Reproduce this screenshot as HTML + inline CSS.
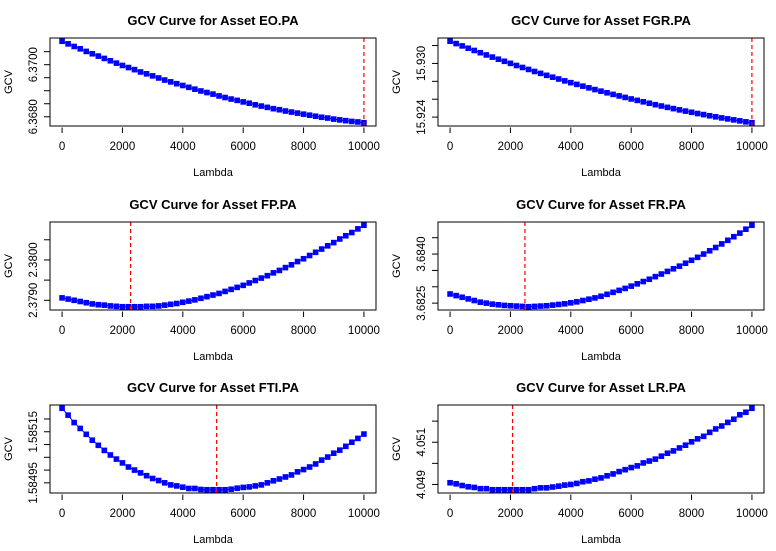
<!DOCTYPE html>
<html><head><meta charset="utf-8"><style>
html,body{margin:0;padding:0;background:#fff;}
svg{display:block;font-family:"Liberation Sans",Arial,sans-serif;}
</style></head><body>
<svg id="chart" width="776" height="551" viewBox="0 0 776 551" xmlns="http://www.w3.org/2000/svg"></svg>
<script>
const lambdas = [];
for (let i = 0; i <= 50; i++) lambdas.push(i * 200);
const xTicks = [0, 2000, 4000, 6000, 8000, 10000];

const assetNames = ["EO.PA","FGR.PA","FP.PA","FR.PA","FTI.PA","LR.PA"];

const gcvEO = [6.37090,6.37080,6.37070,6.37061,6.37051,6.37042,6.37033,6.37024,6.37015,6.37006,6.36997,6.36989,6.36981,6.36972,6.36965,6.36957,6.36949,6.36941,6.36934,6.36927,6.36920,6.36913,6.36906,6.36899,6.36893,6.36887,6.36880,6.36874,6.36868,6.36863,6.36857,6.36852,6.36846,6.36841,6.36836,6.36831,6.36827,6.36822,6.36818,6.36814,6.36810,6.36806,6.36802,6.36798,6.36795,6.36791,6.36788,6.36785,6.36782,6.36780,6.36777];
const gcvFGR = [15.93248,15.93222,15.93196,15.93170,15.93145,15.93120,15.93095,15.93071,15.93047,15.93024,15.93001,15.92977,15.92955,15.92933,15.92910,15.92889,15.92867,15.92846,15.92826,15.92805,15.92785,15.92766,15.92746,15.92727,15.92708,15.92690,15.92672,15.92654,15.92637,15.92620,15.92603,15.92587,15.92571,15.92555,15.92539,15.92524,15.92509,15.92495,15.92481,15.92467,15.92454,15.92440,15.92428,15.92415,15.92403,15.92391,15.92380,15.92369,15.92358,15.92347,15.92337];
const gcvFP = [2.37906,2.37903,2.37900,2.37897,2.37894,2.37891,2.37889,2.37888,2.37886,2.37885,2.37884,2.37884,2.37884,2.37884,2.37885,2.37885,2.37886,2.37888,2.37890,2.37892,2.37895,2.37898,2.37901,2.37905,2.37909,2.37913,2.37917,2.37922,2.37927,2.37932,2.37937,2.37943,2.37949,2.37955,2.37961,2.37968,2.37974,2.37981,2.37988,2.37996,2.38003,2.38011,2.38019,2.38027,2.38035,2.38043,2.38052,2.38060,2.38068,2.38077,2.38086];
const gcvFR = [3.68278,3.68273,3.68268,3.68263,3.68258,3.68253,3.68250,3.68247,3.68245,3.68243,3.68242,3.68241,3.68240,3.68239,3.68240,3.68241,3.68242,3.68244,3.68246,3.68248,3.68251,3.68254,3.68258,3.68262,3.68266,3.68271,3.68277,3.68283,3.68289,3.68295,3.68302,3.68309,3.68316,3.68323,3.68331,3.68339,3.68347,3.68355,3.68363,3.68372,3.68381,3.68390,3.68400,3.68410,3.68420,3.68431,3.68442,3.68453,3.68464,3.68476,3.68488];
const gcvFTI = [1.585242,1.585215,1.585186,1.585163,1.585140,1.585117,1.585097,1.585077,1.585059,1.585043,1.585028,1.585012,1.585000,1.584989,1.584978,1.584967,1.584959,1.584950,1.584942,1.584938,1.584933,1.584928,1.584928,1.584924,1.584923,1.584923,1.584923,1.584923,1.584925,1.584929,1.584932,1.584934,1.584938,1.584942,1.584950,1.584958,1.584965,1.584973,1.584981,1.584993,1.585002,1.585012,1.585024,1.585039,1.585051,1.585066,1.585078,1.585093,1.585109,1.585124,1.585141];
const gcvLR = [4.04908,4.04903,4.04895,4.04889,4.04886,4.04880,4.04880,4.04875,4.04875,4.04875,4.04875,4.04875,4.04875,4.04875,4.04880,4.04884,4.04884,4.04888,4.04892,4.04897,4.04900,4.04905,4.04913,4.04917,4.04925,4.04931,4.04941,4.04950,4.04961,4.04970,4.04980,4.04988,4.05002,4.05011,4.05020,4.05034,4.05048,4.05059,4.05073,4.05086,4.05102,4.05116,4.05128,4.05147,4.05163,4.05177,4.05194,4.05209,4.05230,4.05242,4.05261];

const optLambdaEO = 10000, optLambdaFGR = 10000, optLambdaFP = 2270, optLambdaFR = 2480, optLambdaFTI = 5120, optLambdaLR = 2070;

const yTicksEO = [6.3680,6.3685,6.3690,6.3695,6.3700,6.3705];
const yLabelsEO = ["6.3680","6.3700"];
const yTicksFGR = [15.924,15.926,15.928,15.930,15.932];
const yLabelsFGR = ["15.924","15.930"];
const yTicksFP = [2.3790,2.3795,2.3800,2.3805];
const yLabelsFP = ["2.3790","2.3800"];
const yTicksFR = [3.6825,3.6830,3.6835,3.6840,3.6845];
const yLabelsFR = ["3.6825","3.6840"];
const yTicksFTI = [1.58495,1.58500,1.58505,1.58510,1.58515,1.58520];
const yLabelsFTI = ["1.58495","1.58515"];
const yTicksLR = [4.049,4.050,4.051,4.052];
const yLabelsLR = ["4.049","4.051"];

const panels = [
  {name:assetNames[0], vals:gcvEO, opt:optLambdaEO, ticks:yTicksEO, labels:yLabelsEO},
  {name:assetNames[1], vals:gcvFGR, opt:optLambdaFGR, ticks:yTicksFGR, labels:yLabelsFGR},
  {name:assetNames[2], vals:gcvFP, opt:optLambdaFP, ticks:yTicksFP, labels:yLabelsFP},
  {name:assetNames[3], vals:gcvFR, opt:optLambdaFR, ticks:yTicksFR, labels:yLabelsFR},
  {name:assetNames[4], vals:gcvFTI, opt:optLambdaFTI, ticks:yTicksFTI, labels:yLabelsFTI},
  {name:assetNames[5], vals:gcvLR, opt:optLambdaLR, ticks:yTicksLR, labels:yLabelsLR}
];

const NS = "http://www.w3.org/2000/svg";
const svg = document.getElementById("chart");
function mk(tag, attrs, parent) {
  const e = document.createElementNS(NS, tag);
  for (const k in attrs) e.setAttribute(k, attrs[k]);
  parent.appendChild(e);
  return e;
}
const rowOff = [0, 184, 367];
const colOff = [0, 388];

panels.forEach((p, i) => {
  const ox = colOff[i % 2], oy = rowOff[Math.floor(i / 2)];
  const g = mk("g", {transform: `translate(${ox},${oy})`}, svg);
  
  
  const bx0 = 50, bx1 = 376, by0 = 38, by1 = 126;
  const xmin = lambdas[0], xmax = lambdas[lambdas.length - 1];
  const xr = xmax - xmin;
  const xs = v => bx0 + (v - (xmin - 0.04 * xr)) / (1.08 * xr) * (bx1 - bx0);
  const ymin = Math.min(...p.vals), ymax = Math.max(...p.vals);
  const yr = ymax - ymin;
  const ys = v => by1 - (v - (ymin - 0.04 * yr)) / (1.08 * yr) * (by1 - by0);

  const title = mk("text", {x: 213, y: 25, "text-anchor": "middle", "font-size": 13, "font-weight": "bold", fill: "#000"}, g);
  title.textContent = "GCV Curve for Asset " + p.name;
  
  

  // points
  const pg = mk("g", {}, g);
  
  
  let d = "";
  lambdas.forEach((l, j) => { d += (j ? "L" : "M") + xs(l).toFixed(2) + " " + ys(p.vals[j]).toFixed(2); });
  mk("path", {d: d, fill: "none", stroke: "#0000ff", "stroke-width": 1}, pg);
  lambdas.forEach((l, j) => {
    const r = mk("rect", {x: (xs(l) - 2.8).toFixed(2), y: (ys(p.vals[j]) - 2.8).toFixed(2), width: 5.6, height: 5.6, fill: "#0000ff"}, pg);
    
    
  });

  // optimal lambda line
  const vl = mk("line", {x1: xs(p.opt), x2: xs(p.opt), y1: by0, y2: by1, stroke: "#ff0000", "stroke-width": 1.2, "stroke-dasharray": "4,3"}, g);
  
  

  // box
  const box = mk("rect", {x: bx0, y: by0, width: bx1 - bx0, height: by1 - by0, fill: "none", stroke: "#000", "stroke-width": 1}, g);
  
  

  // x axis
  const xa = mk("g", {}, g);
  
  
  xTicks.forEach(t => {
    mk("line", {x1: xs(t), x2: xs(t), y1: by1 + 1.5, y2: by1 + 7, stroke: "#000", "stroke-width": 1}, xa);
    const tl = mk("text", {x: xs(t), y: by1 + 24, "text-anchor": "middle", "font-size": 11.5, fill: "#000"}, xa);
    tl.textContent = String(t);
    
    
  });
  const xt = mk("text", {x: 213, y: by1 + 50, "text-anchor": "middle", "font-size": 11, fill: "#000"}, g);
  xt.textContent = "Lambda";
  
  

  // y axis
  const ya = mk("g", {}, g);
  
  
  p.ticks.forEach(t => {
    const y = ys(t);
    if (y < by0 - 0.5 || y > by1 + 0.5) return;
    mk("line", {x1: bx0 - 6, x2: bx0, y1: y, y2: y, stroke: "#000", "stroke-width": 1}, ya);
  });
  p.labels.forEach(s => {
    const y = ys(parseFloat(s));
    const tl = mk("text", {x: 0, y: 0, transform: `translate(37,${y.toFixed(2)}) rotate(-90)`, "text-anchor": "middle", "font-size": 11.5, fill: "#000"}, ya);
    tl.textContent = s;
    
    
  });
  const yt = mk("text", {x: 0, y: 0, transform: `translate(12,${(by0 + by1) / 2}) rotate(-90)`, "text-anchor": "middle", "font-size": 11, fill: "#000"}, g);
  yt.textContent = "GCV";
  
  
});
</script>
</body></html>
